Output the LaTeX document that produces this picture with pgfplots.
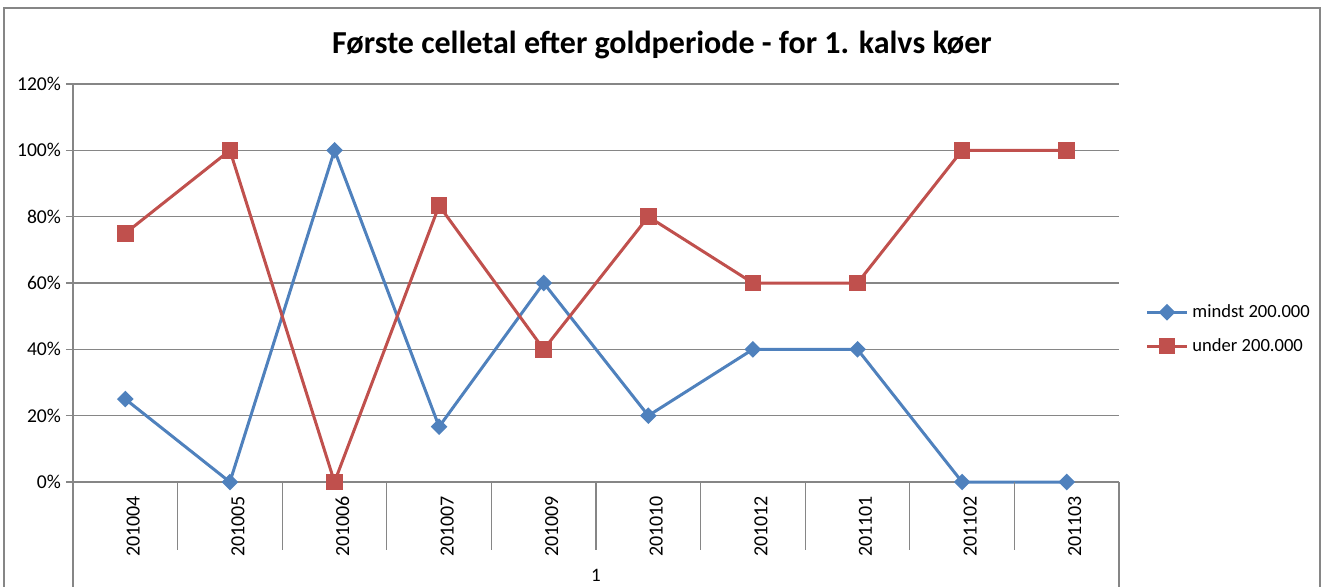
\documentclass[border=0pt]{standalone}
\usepackage{pgfplots}
\pgfplotsset{compat=1.18}
\usepackage{fontspec}
\setmainfont{Carlito}
\definecolor{xlblue}{HTML}{4F81BD}
\definecolor{xlred}{HTML}{C0504D}
\definecolor{xlgrid}{HTML}{868686}

\begin{document}
\begin{tikzpicture}
\useasboundingbox (0,0) rectangle (661.5pt,293pt);
% chart frame
\draw[xlgrid, line width=0.6pt] (2pt,-5pt) -- (2pt,289pt) -- (660pt,289pt) -- (660pt,-5pt);
\node[font=\bfseries\fontsize{16}{18}\selectfont] at (331pt,270.5pt) {Første celletal efter goldperiode - for 1. kalvs køer};
\begin{axis}[
  at={(36.5pt,52pt)}, anchor=south west,
  scale only axis, width=523pt, height=199pt,
  xmin=0.5, xmax=10.5, ymin=0, ymax=120,
  clip=false,
  axis lines=left,
  axis line style={-, xlgrid, line width=0.6pt},
  xtick={1,...,10},
  xticklabels={201004,201005,201006,201007,201009,201010,201012,201101,201102,201103},
  xticklabel style={rotate=90, anchor=east, font=\fontsize{10}{11}\selectfont, yshift=-4pt},
  xtick style={draw=none},
  ytick={0,20,...,120},
  yticklabels={0\%,20\%,40\%,60\%,80\%,100\%,120\%},
  yticklabel style={font=\fontsize{9.8}{11}\selectfont, xshift=1pt},
  tick align=outside,
  major tick length=3.5pt,
  ytick style={xlgrid, line width=0.6pt},
  ymajorgrids,
  grid style={xlgrid, line width=0.6pt},
  legend style={at={(1.025,0.384)}, anchor=west, draw=none, fill=none,
    font=\fontsize{9.3}{10}\selectfont, row sep=5pt, inner sep=0pt},
  legend cell align=left,
  legend image code/.code={\draw[mark repeat=2,mark phase=2] plot coordinates {(0cm,0cm) (0.35cm,0cm) (0.7cm,0cm)};},
]
\addplot[xlblue, line width=1.5pt, mark=square*, mark size=2.2pt, mark options={solid, rotate=45}]
  coordinates {(1,25) (2,0) (3,100) (4,16.67) (5,60) (6,20) (7,40) (8,40) (9,0) (10,0)};
\addlegendentry{mindst 200.000}
\addplot[xlred, line width=1.5pt, mark=square*, mark size=3.4pt, mark options={solid}]
  coordinates {(1,75) (2,100) (3,0) (4,83.33) (5,40) (6,80) (7,60) (8,60) (9,100) (10,100)};
\addlegendentry{under 200.000}
% category separators
\pgfplotsinvokeforeach{1.5,2.5,...,9.5}{
  \draw[xlgrid, line width=0.6pt] (axis cs:#1,0) -- ([yshift=-34pt]axis cs:#1,0);
}
\draw[xlgrid, line width=0.6pt] (axis cs:0.5,0) -- ([yshift=-60pt]axis cs:0.5,0);
\draw[xlgrid, line width=0.6pt] (axis cs:10.5,0) -- ([yshift=-60pt]axis cs:10.5,0);
\node[font=\fontsize{9.5}{10}\selectfont] at ([yshift=-46.5pt]axis cs:5.5,0) {1};
\end{axis}
\end{tikzpicture}
\end{document}
